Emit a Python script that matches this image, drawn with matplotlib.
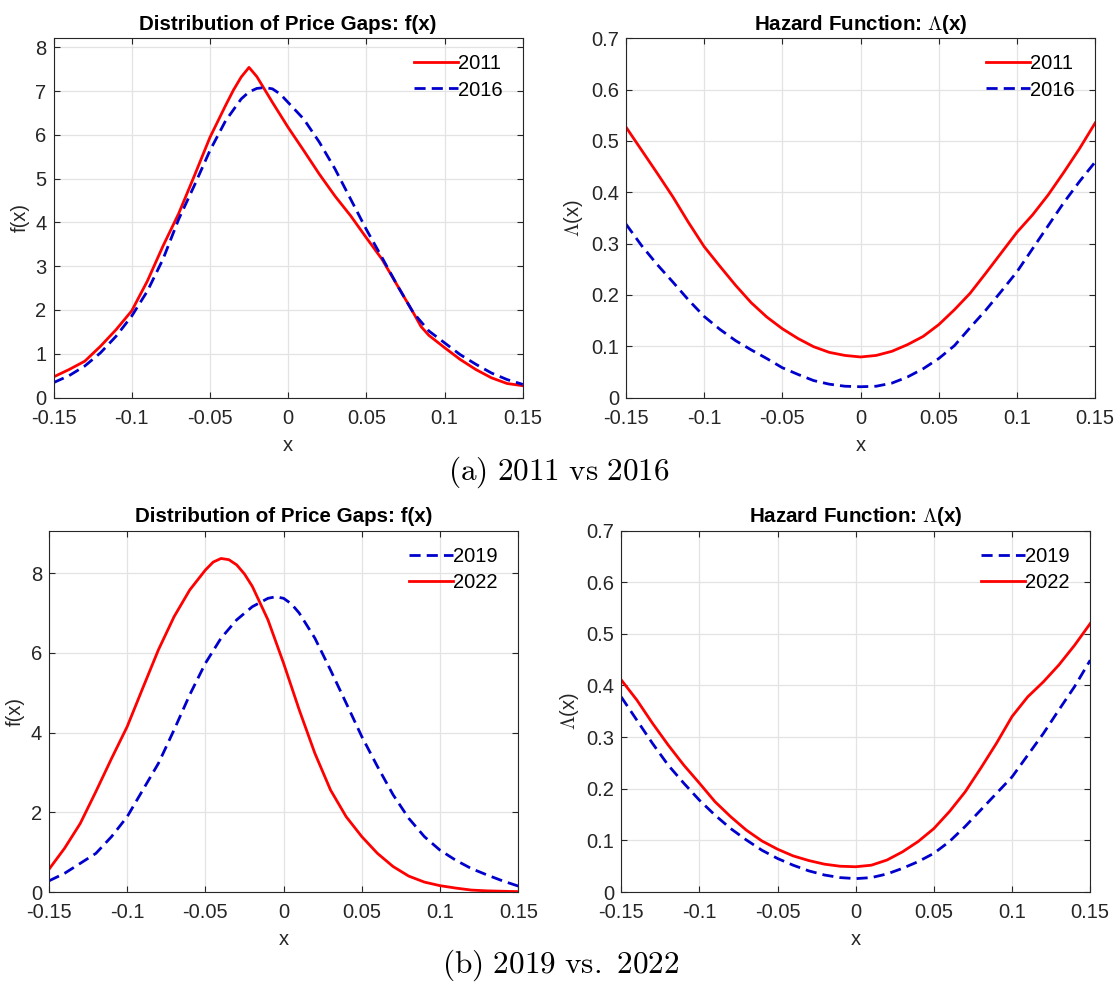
import matplotlib
matplotlib.use("Agg")
import matplotlib.pyplot as plt

plt.rcParams['font.family'] = ['Liberation Sans', 'DejaVu Sans']
plt.rcParams['mathtext.fontset'] = 'cm'

# x grid used in most panels
x = [-0.15, -0.14, -0.13, -0.12, -0.11, -0.10, -0.09, -0.08, -0.07, -0.06,
     -0.05, -0.04, -0.03, -0.02, -0.01, 0.00, 0.01, 0.02, 0.03, 0.04,
     0.05, 0.06, 0.07, 0.08, 0.09, 0.10, 0.11, 0.12, 0.13, 0.14, 0.15]

# (a) density
f_2011_x = [-0.15, -0.14, -0.13, -0.12, -0.11, -0.10, -0.09, -0.08, -0.07, -0.06,
            -0.05, -0.04, -0.035, -0.03, -0.025, -0.02, -0.01, 0.00, 0.01, 0.02,
            0.03, 0.04, 0.05, 0.06, 0.07, 0.08, 0.085, 0.09, 0.10, 0.11, 0.12,
            0.13, 0.14, 0.15]
f_2011 = [0.47, 0.64, 0.83, 1.17, 1.55, 1.98, 2.66, 3.46, 4.20, 5.06,
          5.94, 6.67, 7.02, 7.32, 7.54, 7.33, 6.74, 6.17, 5.64, 5.10,
          4.60, 4.15, 3.65, 3.16, 2.55, 1.94, 1.62, 1.42, 1.14, 0.87, 0.64,
          0.45, 0.32, 0.27]
f_2016_x = [-0.15, -0.14, -0.13, -0.12, -0.11, -0.10, -0.09, -0.08, -0.07, -0.06,
            -0.05, -0.04, -0.03, -0.025, -0.02, -0.015, -0.01, -0.005, 0.00, 0.01,
            0.02, 0.03, 0.04, 0.05, 0.06, 0.07, 0.08, 0.09, 0.10, 0.11, 0.12,
            0.13, 0.14, 0.15]
f_2016 = [0.34, 0.50, 0.72, 1.02, 1.40, 1.86, 2.43, 3.16, 4.07, 4.84,
          5.64, 6.32, 6.82, 6.98, 7.06, 7.08, 7.05, 6.93, 6.74, 6.36,
          5.83, 5.22, 4.53, 3.84, 3.20, 2.55, 1.94, 1.52, 1.25, 0.98, 0.76,
          0.56, 0.41, 0.30]

# (a) hazard
h_2011 = [0.527, 0.482, 0.437, 0.391, 0.341, 0.294, 0.256, 0.219, 0.185, 0.157,
          0.134, 0.115, 0.099, 0.088, 0.082, 0.079, 0.082, 0.090, 0.103, 0.119,
          0.142, 0.171, 0.203, 0.242, 0.282, 0.322, 0.356, 0.395, 0.439, 0.485, 0.535]
h_2016 = [0.338, 0.296, 0.259, 0.225, 0.190, 0.158, 0.133, 0.111, 0.093, 0.076,
          0.058, 0.045, 0.033, 0.026, 0.022, 0.021, 0.022, 0.028, 0.040, 0.056,
          0.076, 0.101, 0.136, 0.170, 0.207, 0.245, 0.290, 0.335, 0.380, 0.421, 0.459]

# (b) density
f_2019_x = [-0.15, -0.14, -0.13, -0.12, -0.11, -0.10, -0.09, -0.08, -0.07, -0.06,
            -0.05, -0.04, -0.03, -0.02, -0.01, -0.005, 0.00, 0.005, 0.01, 0.02, 0.03,
            0.04, 0.05, 0.06, 0.07, 0.08, 0.09, 0.10, 0.11, 0.12, 0.13, 0.14, 0.15]
f_2019 = [0.28, 0.47, 0.72, 0.97, 1.39, 1.89, 2.56, 3.23, 4.07, 4.95,
          5.74, 6.37, 6.83, 7.16, 7.37, 7.41, 7.37, 7.23, 7.00, 6.37, 5.57,
          4.74, 3.90, 3.15, 2.44, 1.85, 1.39, 1.05, 0.80, 0.59, 0.43, 0.28, 0.15]
f_2022_x = [-0.15, -0.14, -0.13, -0.12, -0.11, -0.10, -0.09, -0.08, -0.07, -0.06,
            -0.05, -0.045, -0.04, -0.035, -0.03, -0.025, -0.02, -0.01, 0.00, 0.01,
            0.02, 0.03, 0.04, 0.05, 0.06, 0.07, 0.08, 0.09, 0.10, 0.11, 0.12,
            0.13, 0.14, 0.15]
f_2022 = [0.57, 1.10, 1.72, 2.52, 3.35, 4.15, 5.12, 6.08, 6.91, 7.58,
          8.08, 8.28, 8.37, 8.34, 8.21, 7.98, 7.67, 6.83, 5.74, 4.57,
          3.48, 2.56, 1.89, 1.39, 0.97, 0.64, 0.40, 0.25, 0.16, 0.10, 0.05,
          0.03, 0.02, 0.01]

# (b) hazard
h_2019 = [0.378, 0.333, 0.288, 0.246, 0.211, 0.178, 0.149, 0.123, 0.101, 0.081,
          0.065, 0.052, 0.041, 0.033, 0.028, 0.026, 0.028, 0.035, 0.046, 0.059,
          0.075, 0.098, 0.127, 0.159, 0.191, 0.223, 0.265, 0.307, 0.353, 0.398, 0.449]
h_2022 = [0.411, 0.372, 0.327, 0.285, 0.246, 0.211, 0.175, 0.146, 0.120, 0.099,
          0.083, 0.070, 0.061, 0.054, 0.050, 0.049, 0.052, 0.062, 0.078, 0.098,
          0.123, 0.156, 0.194, 0.240, 0.288, 0.340, 0.378, 0.407, 0.440, 0.478, 0.520]

xticks = [-0.15, -0.1, -0.05, 0, 0.05, 0.1, 0.15]
xticklabels = ['-0.15', '-0.1', '-0.05', '0', '0.05', '0.1', '0.15']
hy = [0, 0.1, 0.2, 0.3, 0.4, 0.5, 0.6, 0.7]
hy_labels = ['0', '0.1', '0.2', '0.3', '0.4', '0.5', '0.6', '0.7']

dark = '#262626'
red = '#ff0000'
blue = '#0000cc'
lw = 2.0
fs = 14.5
dash = (4, 2.2)


def style_ax(ax, ylim, yticks, yticklabels):
    ax.set_xlim(-0.15, 0.15)
    ax.set_ylim(*ylim)
    ax.set_xticks(xticks)
    ax.set_xticklabels(xticklabels)
    ax.set_yticks(yticks)
    ax.set_yticklabels(yticklabels)
    ax.grid(True, color='#e3e3e3', linewidth=0.9)
    ax.set_axisbelow(True)
    ax.tick_params(direction='in', length=4, width=0.8, top=True, right=True,
                   colors=dark, labelsize=fs)
    ax.tick_params(axis='x', pad=8)
    ax.tick_params(axis='y', pad=5)
    for s in ax.spines.values():
        s.set_color(dark)
        s.set_linewidth(0.8)
    ax.set_xlabel('x', fontsize=fs, color=dark, labelpad=6)


def add_legend(ax):
    leg = ax.legend(loc='upper right', frameon=False, fontsize=fs,
                    handlelength=2.2, handletextpad=0.0, labelspacing=0.35,
                    borderaxespad=0.6, bbox_to_anchor=(1.0, 1.011))
    for t in leg.get_texts():
        t.set_color('black')


fig = plt.figure(figsize=(11.15, 9.82), dpi=100)

ax1 = fig.add_axes([0.0480, 0.5952, 0.4208, 0.3658])
ax1.plot(f_2011_x, f_2011, '-', color=red, lw=lw, label='2011')
ax1.plot(f_2016_x, f_2016, '--', color=blue, lw=lw, dashes=dash, label='2016')
style_ax(ax1, (0, 8.205), range(0, 9), [str(i) for i in range(0, 9)])
ax1.set_ylabel('f(x)', fontsize=fs, color=dark, labelpad=4)
ax1.set_title('Distribution of Price Gaps: f(x)', fontsize=14.8, fontweight='bold', pad=6)
add_legend(ax1)

ax2 = fig.add_axes([0.5614, 0.5952, 0.4208, 0.3658])
ax2.plot(x, h_2011, '-', color=red, lw=lw, label='2011')
ax2.plot(x, h_2016, '--', color=blue, lw=lw, dashes=dash, label='2016')
style_ax(ax2, (0, 0.7), hy, hy_labels)
ax2.set_ylabel(r'$\Lambda$(x)', fontsize=fs, color=dark, labelpad=4)
ax2.set_title(r'Hazard Function: $\mathbf{\Lambda}$(x)', fontsize=14.8, fontweight='bold', pad=6)
add_legend(ax2)

ax3 = fig.add_axes([0.0439, 0.0916, 0.4209, 0.3681])
ax3.plot(f_2019_x, f_2019, '--', color=blue, lw=lw, dashes=dash, label='2019')
ax3.plot(f_2022_x, f_2022, '-', color=red, lw=lw, label='2022')
style_ax(ax3, (0, 9.07), [0, 2, 4, 6, 8], ['0', '2', '4', '6', '8'])
ax3.set_ylabel('f(x)', fontsize=fs, color=dark, labelpad=4)
ax3.set_title('Distribution of Price Gaps: f(x)', fontsize=14.8, fontweight='bold', pad=6)
add_legend(ax3)

ax4 = fig.add_axes([0.5571, 0.0916, 0.4207, 0.3681])
ax4.plot(x, h_2019, '--', color=blue, lw=lw, dashes=dash, label='2019')
ax4.plot(x, h_2022, '-', color=red, lw=lw, label='2022')
style_ax(ax4, (0, 0.7), hy, hy_labels)
ax4.set_ylabel(r'$\Lambda$(x)', fontsize=fs, color=dark, labelpad=4)
ax4.set_title(r'Hazard Function: $\mathbf{\Lambda}$(x)', fontsize=14.8, fontweight='bold', pad=6)
add_legend(ax4)

fig.text(0.501, 1 - 472 / 982, r'$\mathrm{(a)\ 2011\ vs\ 2016}$', ha='center', va='center', fontsize=22.5)
fig.text(0.503, 1 - 965 / 982, r'$\mathrm{(b)\ 2019\ vs.\ 2022}$', ha='center', va='center', fontsize=22.5)

fig.savefig('out.png', dpi=100, facecolor='white')
